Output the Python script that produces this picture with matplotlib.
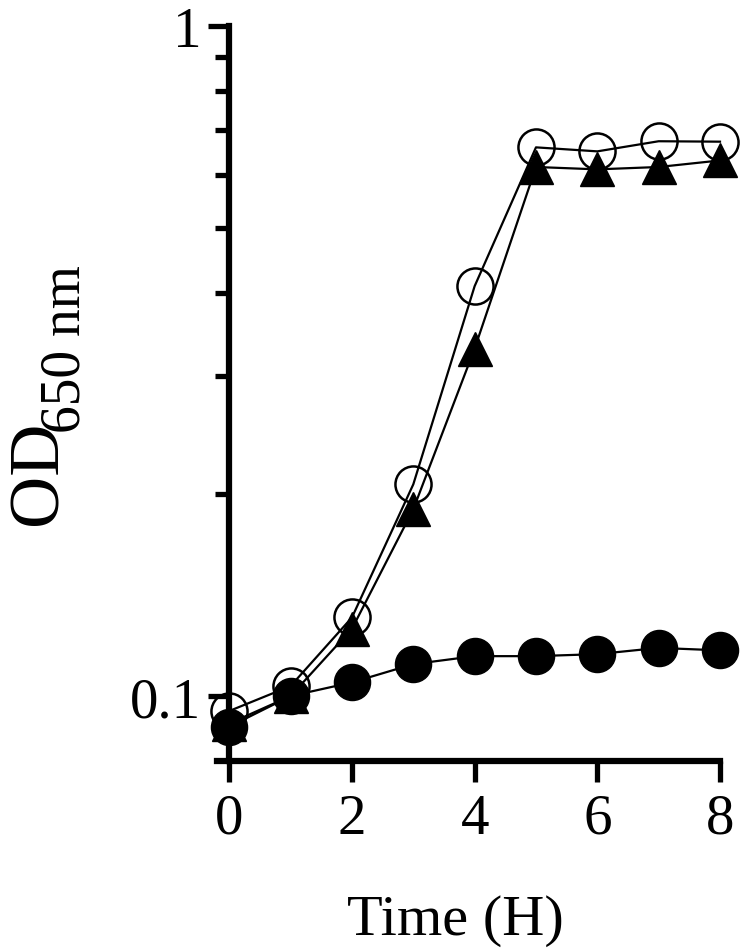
import numpy as np
import matplotlib
matplotlib.use("Agg")
import matplotlib.pyplot as plt

plt.rcParams['font.family'] = ['Liberation Serif', 'DejaVu Serif']

# Data
time_h = [0, 1, 2, 3, 4, 5, 6, 7, 8]
od_open_circle = [0.095, 0.1035, 0.131, 0.207, 0.409, 0.659, 0.650, 0.673, 0.672]
od_triangle = [0.091, 0.100, 0.126, 0.190, 0.330, 0.616, 0.611, 0.616, 0.630]
od_filled_circle = [0.090, 0.100, 0.1048, 0.1116, 0.1147, 0.1147, 0.1155, 0.118, 0.117]

x_ticks = [0, 2, 4, 6, 8]
y_major = [0.1, 1]
y_minor = [0.2, 0.3, 0.4, 0.5, 0.6, 0.7, 0.8, 0.9]

W, H = 750, 953
fig = plt.figure(figsize=(W / 100, H / 100), dpi=100)
ax = fig.add_axes([217 / W, 1 - 762 / H, (720 - 217) / W, (762 - 27) / H])

lw = 1.6
ax.plot(time_h, od_open_circle, '-', color='black', lw=lw, marker='o',
        markersize=26, markerfacecolor='none', markeredgecolor='black',
        markeredgewidth=1.8, zorder=3, clip_on=False)
ax.plot(time_h, od_triangle, '-', color='black', lw=lw, marker='^',
        markersize=25, markerfacecolor='black', markeredgecolor='black',
        zorder=4, clip_on=False)
ax.plot(time_h, od_filled_circle, '-', color='black', lw=lw, marker='o',
        markersize=26, markerfacecolor='black', markeredgecolor='black',
        zorder=5, clip_on=False)

ax.set_yscale('log')
ax.set_ylim(0.08, 1)
ax.set_xlim(-0.2, 8)

ax.set_xticks(x_ticks)
ax.set_xticklabels([str(t) for t in x_ticks])
ax.set_yticks(y_major)
ax.set_yticklabels(['0.1', '1'])
ax.set_yticks(y_minor, minor=True)
ax.yaxis.set_minor_formatter(matplotlib.ticker.NullFormatter())

for side in ['top', 'right']:
    ax.spines[side].set_visible(False)
ax.spines['left'].set_position(('data', 0))
ax.spines['left'].set_linewidth(4.5)
ax.spines['bottom'].set_linewidth(4.5)

ax.tick_params(axis='both', which='major', direction='out', length=15, width=3.8,
               labelsize=41, pad=5)
ax.tick_params(axis='y', which='minor', direction='out', length=10, width=3.8)
ax.tick_params(axis='x', pad=8)

ax.set_xlabel('Time (H)', fontsize=42, va='baseline')
ax.xaxis.set_label_coords((455 - 217) / (720 - 217), -(935 - 762) / (762 - 27))

# y label: "OD" with a lowered "650 nm" subscript
fig.text(56 / W, 1 - 525 / H, 'OD', fontsize=52, rotation=90,
         rotation_mode='anchor', ha='left', va='baseline')
fig.text(80 / W, 1 - 433 / H, '650 nm', fontsize=40, rotation=90,
         rotation_mode='anchor', ha='left', va='baseline')

fig.savefig('out.png', dpi=100)
